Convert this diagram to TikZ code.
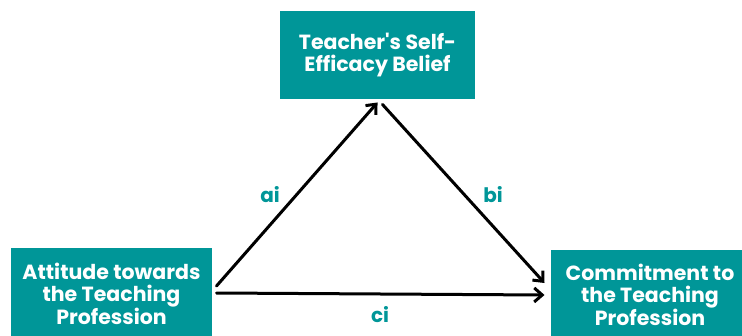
\documentclass[tikz,border=0pt]{standalone}
\usepackage{fontspec}
\setmainfont{Poppins}
\usepackage{xcolor}
\definecolor{teeal}{RGB}{0,150,152}
\usetikzlibrary{arrows.meta}

\begin{document}
\begin{tikzpicture}[x=1pt,y=1pt,>={Straight Barb[length=8pt,width=14pt,line width=3pt]},line width=3pt]
        \tikzstyle{var}=[fill=teeal,text=white,align=center,font=\bfseries\fontsize{20.5}{21.5}\selectfont,inner sep=0pt]
        \tikzstyle{path}=[->,draw=black,line cap=round]
        \tikzstyle{coef}=[text=teeal,font=\bfseries\fontsize{20}{22}\selectfont]

        \useasboundingbox (0,0) rectangle (742,335);
        \begin{scope}
        \clip (0,0) rectangle (742,335);
        \node[var,minimum width=195pt,minimum height=88pt] (eff) at (377.5,280) {Teacher\textquotesingle s Self-\\Efficacy Belief};
        \node[var,minimum width=201pt,minimum height=92pt] (att) at (111.5,41)  {Attitude towards\\the Teaching\\Profession};
        \node[var,minimum width=198pt,minimum height=90pt] (com) at (650,40)    {Commitment to\\the Teaching\\Profession};
        \end{scope}

        \draw[path] ([xshift=3pt,yshift=8pt]att.east) -- ([yshift=-2pt]eff.south);
        \draw[path] ([xshift=5pt,yshift=-4pt]eff.south) -- ([xshift=-5pt,yshift=12pt]com.west);
        \draw[path] ([xshift=3pt,yshift=1pt]att.east) -- ([xshift=-5pt]com.west);

        \node[coef] (ai) at (270,140) {ai};
        \node[coef] (bi) at (493,140) {bi};
        \node[coef] (ci) at (380,20)  {ci};
\end{tikzpicture}
\end{document}
